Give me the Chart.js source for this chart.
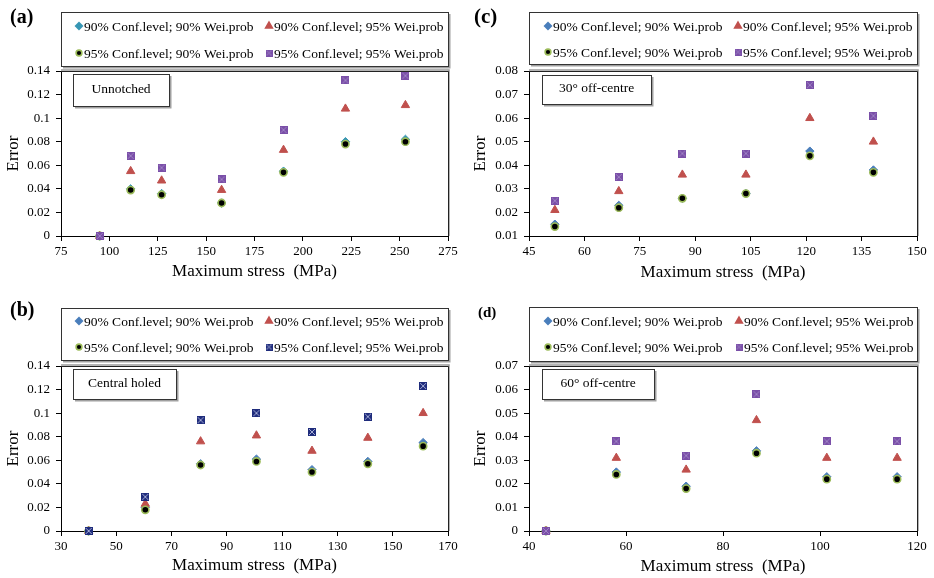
<!DOCTYPE html>
<html>
<head>
<meta charset="utf-8">
<script src="https://cdn.jsdelivr.net/npm/chart.js@4/dist/chart.umd.min.js"></script>
<style>
html, body { margin: 0; padding: 0; background: #fff; }
#wrap { position: relative; width: 934px; height: 578px; }
canvas { position: absolute; }
</style>
</head>
<body>
<div id="wrap">
  <canvas id="pa" width="467" height="289" style="left:0;top:0"></canvas>
  <canvas id="pc" width="467" height="289" style="left:467px;top:0"></canvas>
  <canvas id="pb" width="467" height="289" style="left:0;top:289px"></canvas>
  <canvas id="pd" width="467" height="289" style="left:467px;top:289px"></canvas>
</div>
<script>
// series names (same in every panel)
var seriesLabels = ['90% Conf.level; 90% Wei.prob', '90% Conf.level; 95% Wei.prob',
                    '95% Conf.level; 90% Wei.prob', '95% Conf.level; 95% Wei.prob'];

// (a) Unnotched
var aStress  = [95, 111, 127, 158, 190, 222, 253];
var aC90W90  = [0, 0.040, 0.036, 0.028, 0.055, 0.080, 0.082];
var aC90W95  = [0, 0.055, 0.047, 0.039, 0.073, 0.108, 0.111];
var aC95W90  = [0, 0.039, 0.035, 0.028, 0.054, 0.078, 0.080];
var aC95W95  = [0, 0.068, 0.058, 0.048, 0.090, 0.132, 0.136];

// (b) Central holed
var bStress  = [40, 60.5, 80.5, 100.7, 120.8, 141, 161];
var bC90W90  = [0, 0.020, 0.057, 0.061, 0.052, 0.059, 0.075];
var bC90W95  = [0, 0.023, 0.076, 0.081, 0.068, 0.079, 0.100];
var bC95W90  = [0, 0.018, 0.056, 0.059, 0.050, 0.057, 0.072];
var bC95W95  = [0, 0.029, 0.094, 0.100, 0.084, 0.097, 0.123];

// (c) 30 deg off-centre
var cStress  = [52, 69.3, 86.5, 103.7, 121, 138.2];
var cC90W90  = [0.015, 0.023, 0.026, 0.028, 0.046, 0.038];
var cC90W95  = [0.021, 0.029, 0.036, 0.036, 0.060, 0.050];
var cC95W90  = [0.014, 0.022, 0.026, 0.028, 0.044, 0.037];
var cC95W95  = [0.025, 0.035, 0.045, 0.045, 0.074, 0.061];

// (d) 60 deg off-centre
var dStress  = [43.5, 58, 72.4, 86.9, 101.4, 115.9];
var dC90W90  = [0, 0.025, 0.019, 0.034, 0.023, 0.023];
var dC90W95  = [0, 0.031, 0.026, 0.047, 0.031, 0.031];
var dC95W90  = [0, 0.024, 0.018, 0.033, 0.022, 0.022];
var dC95W95  = [0, 0.038, 0.032, 0.058, 0.038, 0.038];

var FONT = "'Liberation Serif', 'Times New Roman', serif";

function makeSquare(fill, cross, size) {
  var c = document.createElement('canvas');
  c.width = size; c.height = size;
  var g = c.getContext('2d');
  g.fillStyle = fill;
  g.fillRect(0, 0, size, size);
  g.strokeStyle = cross;
  g.lineWidth = 1;
  g.beginPath();
  g.moveTo(1, 1); g.lineTo(size - 1, size - 1);
  g.moveTo(size - 1, 1); g.lineTo(1, size - 1);
  g.stroke();
  return c;
}

var panels = [
  { id: 'pa', tag: '(a)', tagSize: 20, tagX: 10, tagY: 18, inset: 'Unnotched', insetBox: [73, 74, 96, 32],
    xs: aStress, ys: [aC90W90, aC90W95, aC95W90, aC95W95],
    xMin: 75, xMax: 275, xStep: 25, yMin: 0, yMax: 0.14, yStep: 0.02,
    area: { left: 61, right: 448, top: 71, bottom: 236 },
    legendBox: [61, 12, 387, 54], legendRows: [26, 53], legendCols: [79, 269], xTitlePad: 7,
    diamond: '#3796B4', sqFill: '#7A4FA8', sqCross: '#9E82C4' },
  { id: 'pc', tag: '(c)', tagSize: 21, tagX: 7, tagY: 18, inset: '30\u00b0 off-centre', insetBox: [75, 75, 109, 29],
    xs: cStress, ys: [cC90W90, cC90W95, cC95W90, cC95W95],
    xMin: 45, xMax: 150, xStep: 15, yMin: 0.01, yMax: 0.08, yStep: 0.01,
    area: { left: 62, right: 450, top: 71, bottom: 236 },
    legendBox: [62, 12, 388, 52], legendRows: [26, 52], legendCols: [81, 271], xTitlePad: 6,
    diamond: '#4A7EBB', sqFill: '#7A4FA8', sqCross: '#9E82C4' },
  { id: 'pb', tag: '(b)', tagSize: 20, tagX: 10, tagY: 22, inset: 'Central holed', insetBox: [73, 80, 103, 30],
    xs: bStress, ys: [bC90W90, bC90W95, bC95W90, bC95W95],
    xMin: 30, xMax: 170, xStep: 20, yMin: 0, yMax: 0.14, yStep: 0.02,
    area: { left: 61, right: 448, top: 77, bottom: 242 },
    legendBox: [61, 19, 387, 52], legendRows: [32, 58], legendCols: [79, 269], xTitlePad: 2,
    diamond: '#4A7EBB', sqFill: '#1F2C7C', sqCross: '#A3AAD4' },
  { id: 'pd', tag: '(d)', tagSize: 15, tagX: 11, tagY: 24, inset: '60\u00b0 off-centre', insetBox: [75, 80, 112, 30],
    xs: dStress, ys: [dC90W90, dC90W95, dC95W90, dC95W95],
    xMin: 40, xMax: 120, xStep: 20, yMin: 0, yMax: 0.07, yStep: 0.01,
    area: { left: 62, right: 450, top: 77, bottom: 242 },
    legendBox: [62, 18, 388, 54], legendRows: [32, 58], legendCols: [81, 272], xTitlePad: 1,
    diamond: '#4A7EBB', sqFill: '#7A4FA8', sqCross: '#9E82C4' }
];

function boxWithShadow(ctx, x, y, w, h) {
  ctx.save();
  ctx.strokeStyle = '#a0a0a0';
  ctx.lineWidth = 2;
  ctx.beginPath();
  ctx.moveTo(x + w + 1.5, y + 2);
  ctx.lineTo(x + w + 1.5, y + h + 1.5);
  ctx.lineTo(x + 2, y + h + 1.5);
  ctx.stroke();
  ctx.strokeStyle = '#333';
  ctx.lineWidth = 1;
  ctx.strokeRect(x + 0.5, y + 0.5, w, h);
  ctx.restore();
}

var decor = {
  id: 'decor',
  beforeDraw: function (chart) {
    var ctx = chart.ctx;
    ctx.save();
    ctx.fillStyle = '#fff';
    ctx.fillRect(0, 0, chart.width, chart.height);
    ctx.restore();
  },
  beforeDatasetsDraw: function (chart) {
    var a = chart.chartArea, ctx = chart.ctx;
    ctx.save();
    ctx.strokeStyle = '#9a9a9a';
    ctx.lineWidth = 1.5;
    ctx.beginPath();
    ctx.moveTo(a.left, a.top - 1);
    ctx.lineTo(a.right + 1, a.top - 1);
    ctx.lineTo(a.right + 1, a.bottom);
    ctx.stroke();
    ctx.strokeStyle = '#222';
    ctx.lineWidth = 1;
    ctx.beginPath();
    ctx.moveTo(a.left, a.top + 0.5);
    ctx.lineTo(a.right + 0.5, a.top + 0.5);
    ctx.lineTo(a.right + 0.5, a.bottom);
    ctx.stroke();
    ctx.restore();
  },
  afterDraw: function (chart) {
    var p = chart.options.plugins.decor, ctx = chart.ctx;
    // legend
    var lb = p.legendBox;
    boxWithShadow(ctx, lb[0], lb[1], lb[2], lb[3]);
    ctx.save();
    ctx.font = '13.5px ' + FONT;
    ctx.textBaseline = 'middle';
    ctx.fillStyle = '#000';
    chart.data.datasets.forEach(function (ds, i) {
      var x = p.legendCols[i % 2], y = p.legendRows[Math.floor(i / 2)];
      ctx.save();
      ctx.fillStyle = ds.backgroundColor;
      ctx.strokeStyle = ds.borderColor;
      Chart.helpers.drawPoint(ctx, {
        pointStyle: ds.legendStyle || ds.pointStyle, rotation: 0,
        radius: ds.pointRadius * 0.8, borderWidth: ds.borderWidth
      }, x, y);
      ctx.restore();
      ctx.fillText(ds.label, x + 5, y + 1);
    });
    ctx.restore();
    // inset label
    var ib = p.insetBox;
    boxWithShadow(ctx, ib[0], ib[1], ib[2], ib[3]);
    ctx.save();
    ctx.font = '13.5px ' + FONT;
    ctx.textAlign = 'center';
    ctx.textBaseline = 'middle';
    ctx.fillStyle = '#000';
    ctx.fillText(p.inset, ib[0] + ib[2] / 2, ib[1] + ib[3] / 2 - 1);
    // panel tag
    ctx.font = 'bold ' + p.tagSize + 'px ' + FONT;
    ctx.textAlign = 'left';
    ctx.fillText(p.tag, p.tagX, p.tagY);
    ctx.restore();
  }
};

function fmt(v) { return String(Number(v.toFixed(3))); }

panels.forEach(function (p) {
  var el = document.getElementById(p.id);
  var W = el.width, H = el.height;
  var pts = function (ys) { return p.xs.map(function (x, i) { return { x: x, y: ys[i] }; }); };
  var datasets = [
    { label: seriesLabels[0], data: pts(p.ys[0]), pointStyle: 'rectRot', pointRadius: 4.2,
      backgroundColor: p.diamond, borderColor: p.diamond, borderWidth: 1, order: 4 },
    { label: seriesLabels[1], data: pts(p.ys[1]), pointStyle: 'triangle', pointRadius: 4.8,
      backgroundColor: '#C0504D', borderColor: '#C0504D', borderWidth: 1, order: 3 },
    { label: seriesLabels[2], data: pts(p.ys[2]), pointStyle: 'circle', pointRadius: 3.6,
      backgroundColor: '#000', borderColor: '#9BBB59', borderWidth: 1.6, order: 2 },
    { label: seriesLabels[3], data: pts(p.ys[3]), pointStyle: makeSquare(p.sqFill, p.sqCross, 8),
      legendStyle: makeSquare(p.sqFill, p.sqCross, 7), pointRadius: 4.5,
      backgroundColor: p.sqFill, borderColor: p.sqFill, borderWidth: 0, order: 1 }
  ];
  datasets.forEach(function (d) { d.clip = false; d.pointHoverRadius = d.pointRadius; });

  new Chart(el, {
    type: 'scatter',
    data: { datasets: datasets },
    options: {
      responsive: false,
      animation: false,
      events: [],
      layout: { padding: { top: p.area.top, right: W - p.area.right, left: 0, bottom: 0 } },
      plugins: {
        legend: { display: false },
        tooltip: { enabled: false },
        decor: p
      },
      scales: {
        x: {
          type: 'linear', min: p.xMin, max: p.xMax,
          ticks: { stepSize: p.xStep, autoSkip: false, maxRotation: 0, padding: 3, color: '#000',
                   font: { family: FONT, size: 13 } },
          grid: { drawOnChartArea: false, drawTicks: true, tickLength: 5, color: '#000' },
          border: { color: '#000', width: 1 },
          title: { display: true, text: 'Maximum stress  (MPa)', color: '#000',
                   font: { family: FONT, size: 17 }, padding: { top: 0, bottom: p.xTitlePad } },
          afterFit: function (s) { s.height = H - p.area.bottom; }
        },
        y: {
          type: 'linear', min: p.yMin, max: p.yMax,
          ticks: { stepSize: p.yStep, autoSkip: false, padding: 6, color: '#000',
                   font: { family: FONT, size: 13 }, callback: fmt },
          grid: { drawOnChartArea: false, drawTicks: true, tickLength: 5, color: '#000' },
          border: { color: '#000', width: 1 },
          title: { display: true, text: 'Error', color: '#000',
                   font: { family: FONT, size: 17 }, padding: { top: 3, bottom: 0 } },
          afterFit: function (s) { s.width = p.area.left; }
        }
      }
    },
    plugins: [decor]
  });
});
</script>
</body>
</html>
